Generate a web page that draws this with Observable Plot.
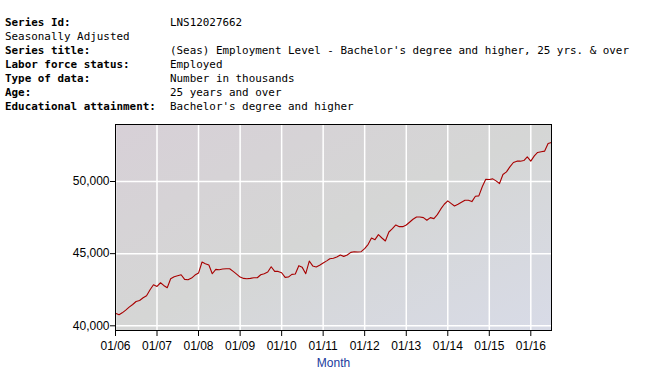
<!DOCTYPE html>
<html>
<head>
<meta charset="utf-8">
<script src="https://cdn.jsdelivr.net/npm/d3@7"></script>
<script src="https://cdn.jsdelivr.net/npm/@observablehq/plot@0.6"></script>
<style>
  html, body { margin: 0; padding: 0; background: #fff; }
  body { width: 669px; height: 390px; overflow: hidden; }
  #hdr { font-family: "DejaVu Sans Mono", monospace; font-size: 10.9px; line-height: 14px;
         padding: 16px 0 0 5px; height: 98px; color: #000; white-space: pre; }
  #hdr .row { position: relative; height: 14px; }
  #hdr .lab { font-weight: bold; }
  #hdr .val { position: absolute; left: 165px; top: 0; }
  #chart svg { display: block; }
</style>
</head>
<body>
<div id="hdr"></div>
<div id="chart"></div>
<script>
// ---- header info ----
const headerLabels = ["Series Id:", "Seasonally Adjusted", "Series title:", "Labor force status:", "Type of data:", "Age:", "Educational attainment:"];
const headerValues = ["LNS12027662", "", "(Seas) Employment Level - Bachelor's degree and higher, 25 yrs. & over", "Employed", "Number in thousands", "25 years and over", "Bachelor's degree and higher"];
const headerBold = [true, false, true, true, true, true, true];

// ---- data (monthly, thousands) starting 01/2006 ----
const startMonth = "2006-01-01";
const values = [
  40877, 40762, 40900, 41085, 41294, 41479, 41687, 41757, 41942, 42081, 42498, 42845,
  42729, 42984, 42798, 42637, 43262, 43400, 43470, 43539, 43215, 43192, 43308, 43516,
  43655, 44419, 44303, 44210, 43609, 43909, 43887, 43932, 43958, 43958, 43771, 43586,
  43377, 43285, 43262, 43285, 43331, 43331, 43539, 43609, 43724, 44095, 43771, 43771,
  43678, 43354, 43377, 43562, 43586, 44166, 44050, 43610, 44488, 44150, 44071, 44200,
  44350, 44500, 44650, 44680, 44766, 44905, 44812, 44905, 45090, 45137, 45113, 45137,
  45345, 45645, 46085, 45970, 46317, 46085, 45877, 46502, 46734, 46988, 46872, 46872,
  46988, 47196, 47382, 47543, 47543, 47497, 47312, 47497, 47428, 47706, 48100, 48423,
  48654, 48469, 48307, 48423, 48562, 48701, 48701, 48608, 48979, 49002, 49650, 50159,
  50136, 50182, 50043, 49858, 50483, 50668, 51015, 51316, 51409, 51409, 51455, 51710,
  51409, 51779, 52011, 52057, 52103, 52636, 52706
];
const yTicks = [40000, 45000, 50000];
const xTickYears = [2006, 2007, 2008, 2009, 2010, 2011, 2012, 2013, 2014, 2015, 2016];
const xLabel = "Month";

// header
const hdr = document.getElementById("hdr");
headerLabels.forEach((l, i) => {
  const row = document.createElement("div");
  row.className = "row";
  const a = document.createElement("span");
  if (headerBold[i]) a.className = "lab";
  a.textContent = l;
  row.appendChild(a);
  if (headerValues[i]) {
    const v = document.createElement("span");
    v.className = "val";
    v.textContent = headerValues[i];
    row.appendChild(v);
  }
  hdr.appendChild(row);
});

const start = new Date(startMonth);
const data = values.map((v, i) => ({date: d3.utcMonth.offset(start, i), value: v}));
const xTicks = xTickYears.map(y => new Date(Date.UTC(y, 0, 1)));

const chart = Plot.plot({
  width: 669,
  height: 276,
  marginTop: 10,
  marginBottom: 60,
  marginLeft: 115,
  marginRight: 118,
  style: {fontFamily: "'Liberation Sans', Arial, sans-serif", fontSize: "12px", color: "black", background: "white"},
  x: {type: "utc", domain: [data[0].date, data[data.length - 1].date]},
  y: {domain: [39675, 53950]},
  marks: [
    Plot.frame({fill: "url(#bgGrad)"}),
    Plot.gridX(xTicks, {stroke: "white", strokeOpacity: 1, strokeWidth: 1.5}),
    Plot.gridY(yTicks, {stroke: "white", strokeOpacity: 1, strokeWidth: 1.5}),
    Plot.lineY(data, {x: "date", y: "value", stroke: "#a80000", strokeWidth: 1.1}),
    Plot.frame({stroke: "black", strokeWidth: 1}),
    Plot.axisX(xTicks, {tickFormat: d3.utcFormat("%m/%y"), tickSize: 6, tickPadding: 5, label: null, fontSize: 12}),
    Plot.axisY(yTicks, {tickFormat: d3.format(","), tickSize: 5, tickPadding: 1, label: null, fontSize: 12}),
    Plot.text([xLabel], {frameAnchor: "bottom", dy: 28, lineAnchor: "top", fill: "#1a3a9c", fontSize: 12})
  ]
});

// background gradient definition
const ns = "http://www.w3.org/2000/svg";
const defs = document.createElementNS(ns, "defs");
const grad = document.createElementNS(ns, "linearGradient");
grad.setAttribute("id", "bgGrad");
grad.setAttribute("x1", "0"); grad.setAttribute("y1", "0");
grad.setAttribute("x2", "1"); grad.setAttribute("y2", "1");
[["0", "#d7d0d7"], ["0.5", "#d5d6d5"], ["1", "#d8dbe7"]].forEach(([o, c]) => {
  const s = document.createElementNS(ns, "stop");
  s.setAttribute("offset", o);
  s.setAttribute("stop-color", c);
  grad.appendChild(s);
});
defs.appendChild(grad);
chart.insertBefore(defs, chart.firstChild);

document.getElementById("chart").appendChild(chart);
</script>
</body>
</html>
